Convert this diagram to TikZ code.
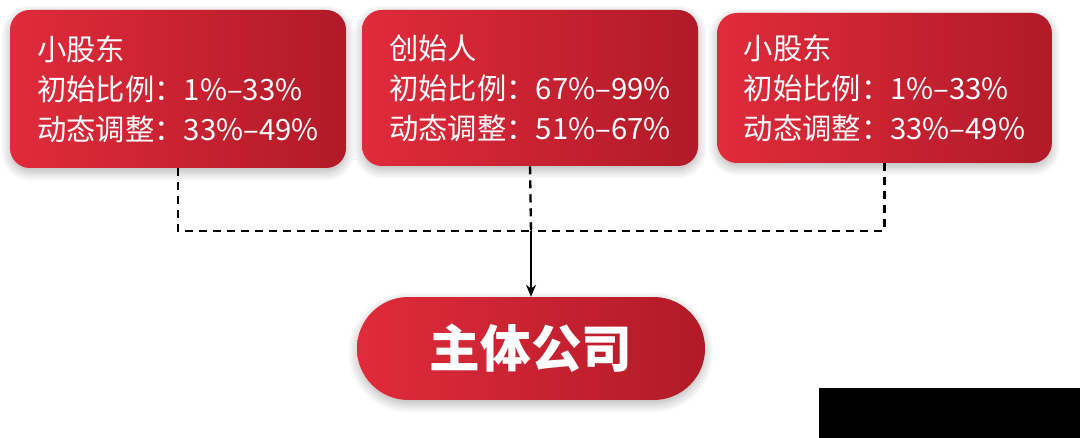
\documentclass[tikz,border=0pt]{standalone}
\usepackage{fontspec}
\usepackage{tikz}
\usetikzlibrary{arrows.meta,shadows.blur}
\newfontfamily\cjk{Noto Sans CJK SC}

\definecolor{redlight}{HTML}{E02B3B}
\definecolor{reddark}{HTML}{B11A27}

\tikzset{
  redbox/.style={rounded corners=15pt, left color=redlight, right color=reddark,
    draw=none, text=white, align=left, font=\cjk\fontsize{22}{30}\selectfont,
    blur shadow={shadow xshift=0pt, shadow yshift=-3pt, shadow blur steps=8,
      shadow opacity=30, shadow blur radius=7pt, fill=red!45}},
  dashline/.style={draw, line width=1.8pt, dash pattern=on 6pt off 4.5pt},
  arrowline/.style={draw, line width=1.6pt, -{Stealth[length=9pt,width=7.5pt]}},
}

\begin{document}
\begin{tikzpicture}[x=0.75pt, y=-0.75pt]
\useasboundingbox (0,0) rectangle (1080,438);

\node[redbox, minimum width=252pt, minimum height=118.5pt] (minor1) at (178,89)
  {小股东\\初始比例：1\%–33\%\\动态调整：33\%–49\%};
\node[redbox, minimum width=252pt, minimum height=117pt] (founder) at (530,88)
  {创始人\\初始比例：67\%–99\%\\动态调整：51\%–67\%};
\node[redbox, minimum width=251pt, minimum height=112.5pt] (minor2) at (884.5,88)
  {小股东\\初始比例：1\%–33\%\\动态调整：33\%–49\%};

\node[redbox, rounded corners=38.6pt, minimum width=261pt, minimum height=77.2pt,
  align=center, font=\cjk\bfseries\fontsize{38}{40}\selectfont] (company) at (531,348.5) {主体公司};

\coordinate (join) at (531,231);
\draw[dashline] (minor1.south) |- (join);
\draw[dashline] (minor2.south) |- (join);
\draw[dashline] (founder.south) -- (join);
\draw[arrowline] (join) -- (company.north);

\fill[black] (819,388) rectangle (1080,438);
\end{tikzpicture}
\end{document}
